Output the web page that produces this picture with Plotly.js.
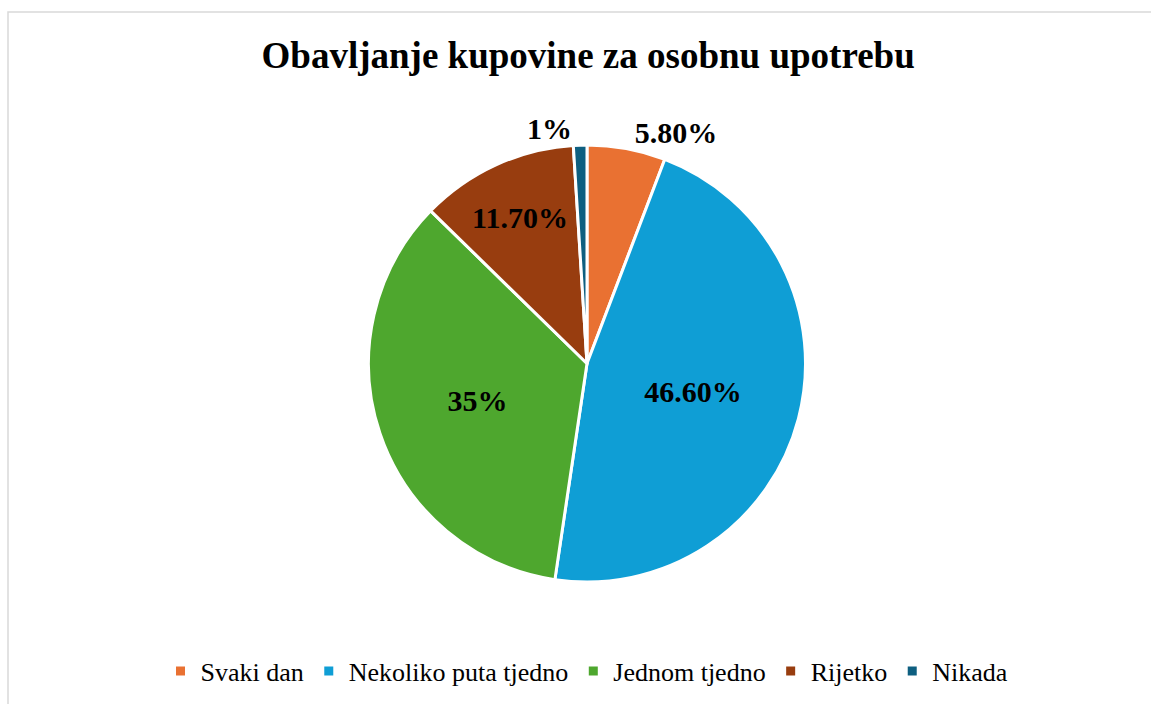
<!DOCTYPE html>
<html>
<head>
<meta charset="utf-8">
<script src="https://cdn.plot.ly/plotly-3.0.1.min.js"></script>
<style>html,body{margin:0;padding:0;background:#fff;}#chart{width:1151px;height:704px;}</style>
</head>
<body>
<div id="chart"></div>
<script>
const categories = ["Svaki dan", "Nekoliko puta tjedno", "Jednom tjedno", "Rijetko", "Nikada"];
const values = [5.8, 46.6, 35, 11.7, 1];
const valueLabels = ["5.80%", "46.60%", "35%", "11.70%", "1%"];
const colors = ["#E97132", "#0F9ED5", "#4EA72E", "#983D0F", "#0E5F80"];
const positions = ["outside", "inside", "inside", "inside", "outside"];

const SERIF = "Liberation Serif";
const W = 1151, H = 704;
const cx = 587, cy = 363.5, r = 218.5;

const trace = {
  type: "pie",
  labels: categories,
  values: values,
  text: valueLabels,
  textinfo: "text",
  textposition: positions,
  insidetextorientation: "horizontal",
  sort: false,
  direction: "clockwise",
  rotation: 0,
  marker: {colors: colors, line: {color: "#ffffff", width: 3}},
  textfont: {family: SERIF, size: 30, color: "#000000", weight: "bold"},
  insidetextfont: {family: SERIF, size: 30, color: "#000000", weight: "bold"},
  outsidetextfont: {family: SERIF, size: 30, color: "#000000", weight: "bold"},
  domain: {x: [(cx - r) / W, (cx + r) / W], y: [(H - cy - r) / H, (H - cy + r) / H]},
  hoverinfo: "label+text"
};

const layout = {
  width: W, height: H,
  margin: {l: 0, r: 0, t: 0, b: 0},
  paper_bgcolor: "#ffffff",
  font: {family: SERIF, color: "#000000"},
  title: {
    text: "<b>Obavljanje kupovine za osobnu upotrebu</b>",
    font: {family: SERIF, size: 37, color: "#000000"},
    x: 0.511, xanchor: "center", y: 1 - 55 / H, yanchor: "middle"
  },
  showlegend: true,
  legend: {
    orientation: "h",
    x: 0.51, xanchor: "center",
    y: 1 - 671 / H, yanchor: "middle",
    font: {family: SERIF, size: 26, color: "#000000"},
    itemwidth: 30
  },
  shapes: [{
    type: "rect", xref: "paper", yref: "paper",
    x0: 8 / W, x1: 1.02, y0: -0.02, y1: 1 - 12 / H,
    line: {color: "#d9d9d9", width: 1.5}, fillcolor: "rgba(0,0,0,0)"
  }]
};

Plotly.newPlot("chart", [trace], layout, {displayModeBar: false, staticPlot: true});
</script>
</body>
</html>
